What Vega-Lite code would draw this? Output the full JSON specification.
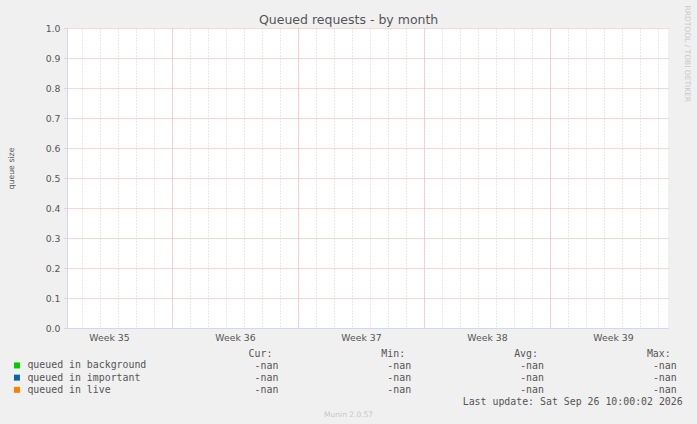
{
  "$schema": "https://vega.github.io/schema/vega-lite/v6.json",
  "description": "Munin: queued requests by month (no data, all -nan)",
  "background": "#f0f0f0",
  "padding": {"left": 7, "top": 5, "right": 8, "bottom": 8},
  "config": {
    "font": "DejaVu Sans",
    "view": {"stroke": null},
    "axis": {"labelFont": "DejaVu Sans", "titleFont": "DejaVu Sans"}
  },
  "datasets": {
    "series": [
      {"series": "queued in background", "day": null, "size": null, "cur": "-nan", "min": "-nan", "avg": "-nan", "max": "-nan"},
      {"series": "queued in important", "day": null, "size": null, "cur": "-nan", "min": "-nan", "avg": "-nan", "max": "-nan"},
      {"series": "queued in live", "day": null, "size": null, "cur": "-nan", "min": "-nan", "avg": "-nan", "max": "-nan"}
    ],
    "headers": [
      {"stat": "cur", "label": "Cur:"},
      {"stat": "min", "label": "Min:"},
      {"stat": "avg", "label": "Avg:"},
      {"stat": "max", "label": "Max:"}
    ]
  },
  "title": {
    "text": "Munin 2.0.57",
    "orient": "bottom",
    "anchor": "middle",
    "frame": "bounds",
    "fontSize": 7.5,
    "fontWeight": "normal",
    "color": "#c8c8c8",
    "offset": 5
  },
  "bounds": "flush",
  "spacing": 25.5,
  "vconcat": [
    {
      "width": 601,
      "height": 300,
      "view": {"fill": "white", "stroke": null},
      "title": {
        "text": "Queued requests - by month",
        "anchor": "middle",
        "frame": "bounds",
        "fontSize": 12.5,
        "fontWeight": "normal",
        "color": "#555555",
        "offset": -21
      },
      "data": {"name": "series"},
      "layer": [
        {
          "mark": {"type": "point", "shape": "square", "filled": true, "size": 36, "opacity": 1},
          "encoding": {
            "x": {
              "field": "day",
              "type": "quantitative",
              "scale": {"domain": [1.1667, 34.5556], "nice": false, "zero": false},
              "axis": {
                "orient": "bottom",
                "values": [2, 3, 4, 5, 6, 7, 8, 9, 10, 11, 12, 13, 14, 15, 16, 17, 18, 19, 20, 21, 22, 23, 24, 25, 26, 27, 28, 29, 30, 31, 32, 33, 34],
                "grid": true,
                "gridColor": "#d4d4d4",
                "gridDash": [1, 2],
                "labels": false,
                "ticks": false,
                "domain": false,
                "title": null
              }
            },
            "y": {
              "field": "size",
              "type": "quantitative",
              "scale": {"domain": [0, 1], "nice": false, "zero": true},
              "axis": {
                "orient": "left",
                "values": [0, 0.1, 0.2, 0.3, 0.4, 0.5, 0.6, 0.7, 0.8, 0.9, 1],
                "format": ".1f",
                "grid": true,
                "gridColor": "#f6b0b0",
                "gridDash": [1, 1],
                "ticks": true,
                "tickSize": 3,
                "tickColor": "#f6b0b0",
                "tickDash": [1, 1],
                "domain": true,
                "domainColor": "#cfd6f8",
                "labelFontSize": 9.3,
                "labelColor": "#555555",
                "labelPadding": 4,
                "title": "queue size",
                "titleFontSize": 7.8,
                "titleFontWeight": "normal",
                "titleColor": "#555555",
                "titlePadding": 30,
                "titleY": 140
              }
            },
            "color": {
              "field": "series",
              "type": "nominal",
              "scale": {
                "domain": ["queued in background", "queued in important", "queued in live"],
                "range": ["#00cc00", "#0066b3", "#ff8000"]
              },
              "legend": {
                "orient": "none",
                "legendX": -55,
                "legendY": 332.5,
                "title": null,
                "direction": "vertical",
                "symbolType": "square",
                "symbolSize": 36,
                "symbolStrokeWidth": 0,
                "symbolOpacity": 1,
                "labelFont": "DejaVu Sans Mono",
                "labelFontSize": 9.9,
                "labelColor": "#555555",
                "labelOffset": 5.5,
                "rowPadding": 1.2,
                "padding": 0
              }
            }
          }
        },
        {
          "mark": {"type": "point", "shape": "square", "filled": true, "opacity": 0},
          "encoding": {
            "x": {
              "field": "day",
              "type": "quantitative",
              "axis": {
                "orient": "bottom",
                "values": [7, 14, 21, 28],
                "grid": true,
                "gridColor": "#f6b0b0",
                "gridDash": [1, 1],
                "labels": false,
                "ticks": false,
                "domain": false,
                "title": null
              }
            },
            "y": {
              "field": "size",
              "type": "quantitative",
              "axis": {
                "orient": "right",
                "grid": false,
                "labels": false,
                "ticks": false,
                "domain": false,
                "title": "RRDTOOL / TOBI OETIKER",
                "titleAngle": 90,
                "titleAlign": "left",
                "titleBaseline": "middle",
                "titleFontSize": 7.5,
                "titleFontWeight": "normal",
                "titleColor": "#c8c8c8",
                "titleX": 18,
                "titleY": -23
              }
            }
          }
        },
        {
          "mark": {"type": "point", "shape": "square", "filled": true, "opacity": 0},
          "encoding": {
            "x": {
              "field": "day",
              "type": "quantitative",
              "axis": {
                "orient": "bottom",
                "values": [3.5, 10.5, 17.5, 24.5, 31.5],
                "labelExpr": "'Week ' + (35 + floor(datum.value / 7))",
                "grid": false,
                "ticks": false,
                "domain": true,
                "domainColor": "#cfd6f8",
                "labelFontSize": 9.3,
                "labelColor": "#555555",
                "labelPadding": 5,
                "title": null
              }
            },
            "y": {"field": "size", "type": "quantitative", "axis": null}
          }
        }
      ],
      "resolve": {"axis": {"x": "independent", "y": "independent"}}
    },
    {
      "width": 609.7,
      "height": 48,
      "layer": [
        {
          "data": {"name": "series"},
          "transform": [{"fold": ["cur", "min", "avg", "max"], "as": ["stat", "value"]}],
          "mark": {"type": "text", "align": "right", "baseline": "middle", "font": "DejaVu Sans Mono", "fontSize": 9.9, "color": "#555555"},
          "encoding": {
            "x": {
              "field": "stat",
              "type": "nominal",
              "scale": {"type": "point", "domain": ["cur", "min", "avg", "max"], "padding": 0.796, "align": 1},
              "axis": null
            },
            "y": {
              "field": "series",
              "type": "nominal",
              "scale": {"type": "point", "domain": ["header", "queued in background", "queued in important", "queued in live", "update"], "padding": 0},
              "axis": null
            },
            "text": {"field": "value"}
          }
        },
        {
          "data": {"name": "headers"},
          "mark": {"type": "text", "align": "right", "baseline": "middle", "dx": -6, "font": "DejaVu Sans Mono", "fontSize": 9.9, "color": "#555555"},
          "encoding": {
            "x": {"field": "stat", "type": "nominal"},
            "y": {"datum": "header", "type": "nominal"},
            "text": {"field": "label"}
          }
        },
        {
          "data": {"values": [{"updated": "Last update: Sat Sep 26 10:00:02 2026"}]},
          "mark": {"type": "text", "align": "right", "baseline": "middle", "dx": 6, "font": "DejaVu Sans Mono", "fontSize": 9.9, "color": "#555555"},
          "encoding": {
            "x": {"datum": "max", "type": "nominal"},
            "y": {"datum": "update", "type": "nominal"},
            "text": {"field": "updated"}
          }
        }
      ]
    }
  ]
}
